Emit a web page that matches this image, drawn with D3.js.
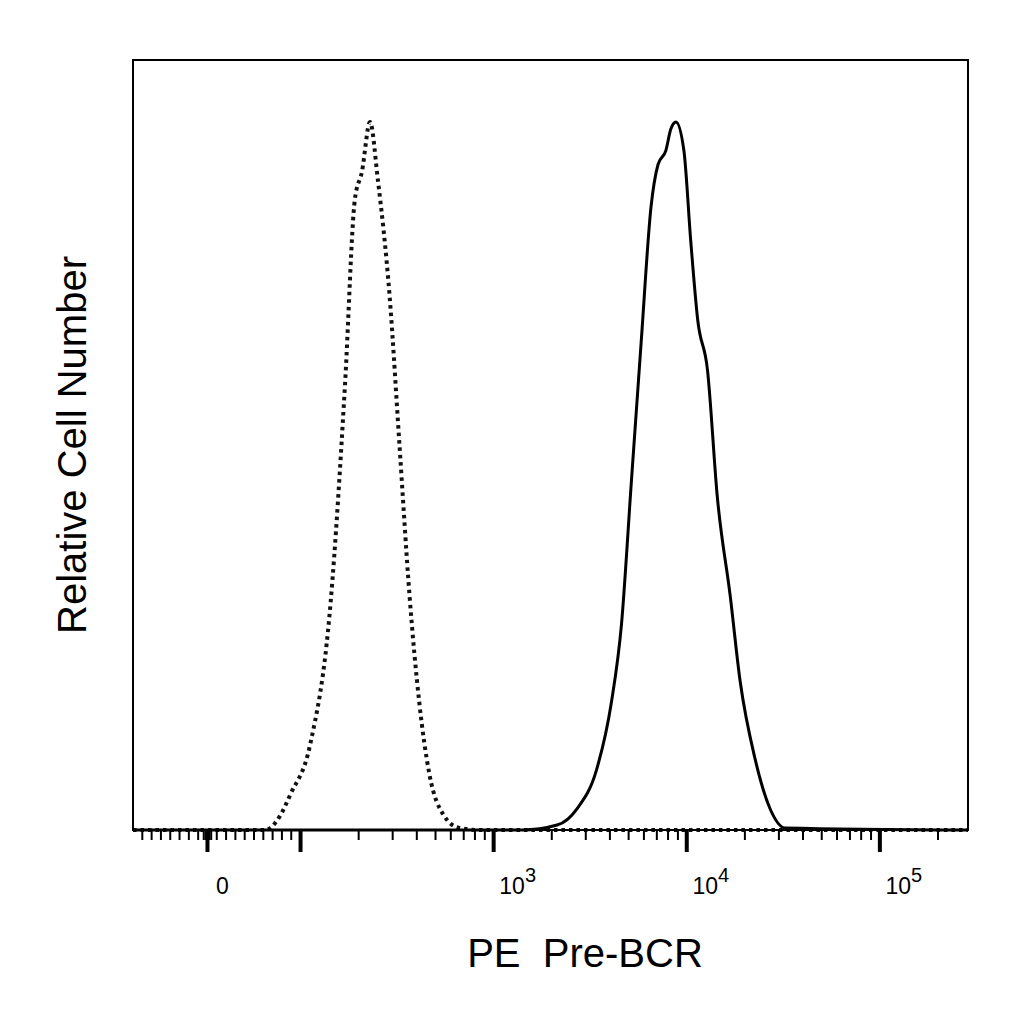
<!DOCTYPE html>
<html><head><meta charset="utf-8">
<script src="https://cdn.jsdelivr.net/npm/d3@7"></script>
<style>body{margin:0;background:#fff}</style></head>
<body><div class="canvas"></div>
<script>
// isotype control (dotted) and PE Pre-BCR (solid): intensity vs relative count
const isoX = [-80, 62, 78, 89, 112, 143, 170, 191, 208, 229, 251, 290, 326, 367, 412, 464, 554, 662, 838, 286000];
const isoY = [0, 0, 2, 5, 12, 32, 63, 89, 93, 100, 92, 75, 54, 33, 18, 8, 2, 0.3, 0, 0];
const stX = [-80, 1409, 2130, 2700, 3410, 4070, 4590, 5160, 5810, 6530, 7100, 7800, 8270, 8790, 9660, 10500, 11400, 12800, 14400, 16800, 18900, 22600, 27000, 32200, 286000];
const stY = [0, 0, 0.7, 3, 8.5, 18, 29, 49, 69, 88, 94, 96, 99, 100, 96, 83, 72, 65, 47, 33, 21, 10, 3, 0.3, 0];
const majorTicks = [0, 100, 1000, 10000, 100000];
const tickLabels = [{ v: 0, t: "0" }, { v: 1000, e: "3" }, { v: 10000, e: "4" }, { v: 100000, e: "5" }];

const m = { l: 133, t: 60, r: 968, b: 830 };

// linear below 100, logarithmic above (biexponential-like display)
const tf = v => (v >= 100 ? Math.log10(v) : 2 - (100 - v) / 100 * 0.482);
const lin = d3.scaleLinear().domain([tf(-80), tf(286000)]).range([m.l, m.r]);
const x = v => lin(tf(v));
const y = d3.scaleLinear().domain([0, 100]).range([m.b, 122]);

const svg = d3.select(".canvas").append("svg").attr("width", 1024).attr("height", 1024)
  .style("font-family", "Liberation Sans, Arial, sans-serif");

const line = d3.line().x(d => x(d[0])).y(d => y(d[1])).curve(d3.curveMonotoneX);

svg.append("path").datum(d3.zip(isoX, isoY)).attr("d", line).attr("fill", "none")
  .attr("stroke", "#111").attr("stroke-width", 4).attr("stroke-dasharray", "3.5,4");
svg.append("path").datum(d3.zip(stX, stY)).attr("d", line).attr("fill", "none")
  .attr("stroke", "#000").attr("stroke-width", 3);

svg.append("rect").attr("x", m.l).attr("y", m.t).attr("width", m.r - m.l).attr("height", m.b - m.t)
  .attr("fill", "none").attr("stroke", "#000").attr("stroke-width", 2);

// minor ticks
const minor = [];
for (let v = -70; v < 100; v += 10) if (v !== 0) minor.push(v);
[-4, -2, 2, 4].forEach(v => minor.push(v));
for (let d = 100; d <= 100000; d *= 10) for (let k = 2; k <= 9; k++) if (d * k < 286000) minor.push(d * k);
const g = svg.append("g");
g.selectAll(".mn").data(minor).join("line").attr("x1", d => x(d)).attr("x2", d => x(d))
  .attr("y1", m.b).attr("y2", m.b + 10).attr("stroke", "#000").attr("stroke-width", 2);
g.selectAll(".mj").data(majorTicks).join("line").attr("x1", d => x(d)).attr("x2", d => x(d))
  .attr("y1", m.b).attr("y2", m.b + 22).attr("stroke", "#000").attr("stroke-width", 4);

const lab = g.selectAll(".lb").data(tickLabels).join("text")
  .attr("x", d => x(d.v) + (d.e ? 24 : 15)).attr("y", 894).attr("text-anchor", "middle")
  .attr("font-size", 23);
lab.each(function (d) {
  const t = d3.select(this);
  if (d.e) { t.append("tspan").text("10"); t.append("tspan").attr("dy", -12).attr("font-size", 20).text(d.e); }
  else t.text(d.t);
});

svg.append("text").attr("x", 585).attr("y", 967).attr("text-anchor", "middle").attr("font-size", 40)
  .attr("xml:space", "preserve").text("PE  Pre-BCR");
svg.append("text").attr("transform", "translate(86,445) rotate(-90)").attr("text-anchor", "middle")
  .attr("font-size", 40).text("Relative Cell Number");
</script></body></html>
